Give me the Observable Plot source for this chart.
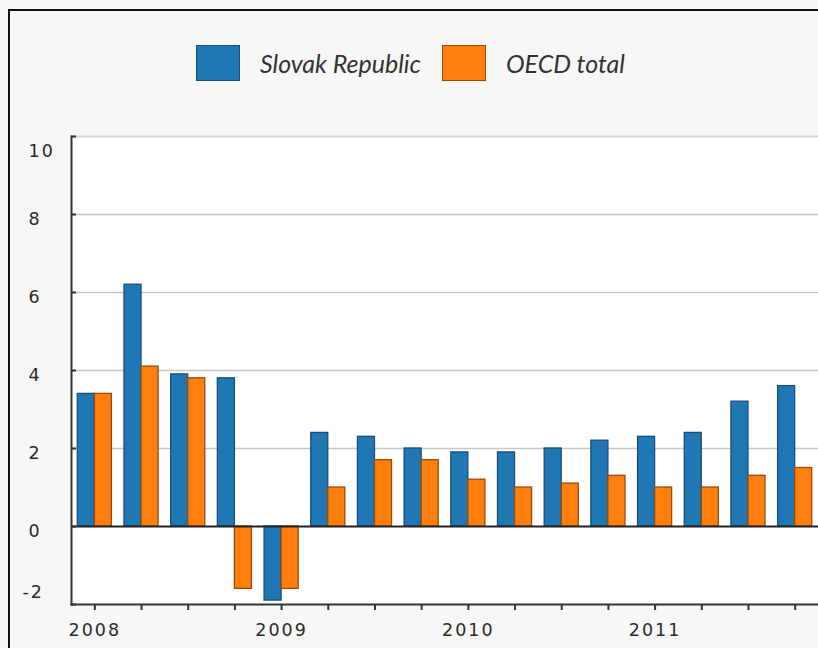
<!DOCTYPE html>
<html>
<head>
<meta charset="utf-8">
<script src="https://cdn.jsdelivr.net/npm/d3@7"></script>
<script src="https://cdn.jsdelivr.net/npm/@observablehq/plot@0.6"></script>
<style>
  html, body { margin: 0; padding: 0; background: #f7f7f7; }
  #wrap { position: relative; width: 818px; height: 648px; background: #f7f7f7; overflow: hidden; }
  #chart { position: absolute; left: 0; top: 0; }
  #chart svg text { letter-spacing: 2px; }
  #bl { position: absolute; left: 8px; top: 9px; width: 2px; height: 639px; background: #111; }
  #bt { position: absolute; left: 8px; top: 9px; width: 810px; height: 2px; background: #111; }
  #legend { position: absolute; left: 196px; top: 45px; height: 36px; display: flex; align-items: center;
            font-family: Lato, "Open Sans", sans-serif; font-style: italic; font-size: 25px; color: #333; white-space: nowrap; }
  .sw { width: 44px; height: 36px; box-sizing: border-box; border: 1.5px solid; }
</style>
</head>
<body>
<div id="wrap">
  <div id="chart"></div>
  <div id="bl"></div>
  <div id="bt"></div>
  <div id="legend"></div>
</div>
<script>
// ---- data ----
const quarters = ["2008-Q1","2008-Q2","2008-Q3","2008-Q4",
                  "2009-Q1","2009-Q2","2009-Q3","2009-Q4",
                  "2010-Q1","2010-Q2","2010-Q3","2010-Q4",
                  "2011-Q1","2011-Q2","2011-Q3","2011-Q4"];
const slovak = [3.4, 6.2, 3.9, 3.8, -1.9, 2.4, 2.3, 2.0, 1.9, 1.9, 2.0, 2.2, 2.3, 2.4, 3.2, 3.6];
const oecd   = [3.4, 4.1, 3.8, -1.6, -1.6, 1.0, 1.7, 1.7, 1.2, 1.0, 1.1, 1.3, 1.0, 1.0, 1.3, 1.5];
const seriesNames = ["Slovak Republic", "OECD total"];
const seriesColors = ["#1f77b4", "#ff7f0e"];
const seriesStrokes = ["#1b4d75", "#9a4a0c"];
const yTicks = [-2, 0, 2, 4, 6, 8, 10];
const gridTicks = [2, 4, 6, 8];

// ---- layout ----
const W = 818, H = 648, mL = 71, mR = 0, mT = 136, mB = 44;
const padIn = 0.27;
const step = (W - mL - mR) / quarters.length;
const half = step * (1 - padIn) / 2;

const rowsA = quarters.map((q, i) => ({q, v: slovak[i]}));
const rowsB = quarters.map((q, i) => ({q, v: oecd[i]}));

const font = "DejaVu Sans, Verdana, sans-serif";
const fs = 17.5;

const plot = Plot.plot({
  width: W, height: H,
  marginLeft: mL, marginRight: mR, marginTop: mT, marginBottom: mB,
  style: {background: "transparent", fontFamily: font, fontSize: fs + "px", color: "#2a2a2a", overflow: "visible"},
  x: {domain: quarters, paddingInner: padIn, paddingOuter: padIn / 2, round: false, axis: null},
  y: {domain: [-2, 10], axis: null},
  marks: [
    Plot.frame({fill: "white", stroke: null}),
    Plot.ruleY(gridTicks, {stroke: "#c8c8c8", strokeWidth: 1.5}),
    Plot.ruleY([10], {stroke: "#d8d8d8", strokeWidth: 2}),
    Plot.barY(rowsA, {x: "q", y: "v", fill: seriesColors[0], stroke: seriesStrokes[0], strokeWidth: 1.3, insetRight: half}),
    Plot.barY(rowsB, {x: "q", y: "v", fill: seriesColors[1], stroke: seriesStrokes[1], strokeWidth: 1.3, insetLeft: half}),
    Plot.ruleY([0], {stroke: "#222", strokeWidth: 2}),
    Plot.frame({anchor: "left", stroke: "#333", strokeWidth: 2}),
    Plot.frame({anchor: "bottom", stroke: "#333", strokeWidth: 2}),
    // y ticks pointing inward
    Plot.axisY(yTicks, {tickSize: 5, dx: 5, fill: "none", stroke: "#333", strokeWidth: 2, label: null}),
    // y tick labels
    Plot.axisY([0, 2, 4, 6, 8], {tickSize: 0, tickPadding: 0, textAnchor: "start", dx: -43, dy: 4.9,
      fontSize: fs, fill: "#2a2a2a", tickFormat: d => String(d), label: null}),
    Plot.axisY([10], {tickSize: 0, tickPadding: 0, textAnchor: "start", dx: -43, dy: 14.6,
      fontSize: fs, fill: "#2a2a2a", tickFormat: d => String(d), label: null}),
    Plot.axisY([-2], {tickSize: 0, tickPadding: 0, textAnchor: "start", dx: -49, dy: -11.7,
      fontSize: fs, fill: "#2a2a2a", tickFormat: d => String(d), label: null}),
    // x ticks at every quarter
    Plot.axisX(quarters, {tickSize: 6, fill: "none", stroke: "#333", strokeWidth: 2, label: null}),
    // x labels at first quarter of each year
    Plot.axisX(quarters.filter(q => q.endsWith("Q1")), {tickSize: 0, tickPadding: 19, fontSize: fs, fill: "#2a2a2a",
      tickFormat: d => d.slice(0, 4), label: null})
  ]
});
document.getElementById("chart").appendChild(plot);

// ---- legend ----
const legend = document.getElementById("legend");
seriesNames.forEach((name, i) => {
  const sw = document.createElement("div");
  sw.className = "sw";
  sw.style.background = seriesColors[i];
  sw.style.borderColor = seriesStrokes[i];
  sw.style.marginRight = "20px";
  legend.appendChild(sw);
  const t = document.createElement("span");
  t.textContent = name;
  t.style.marginRight = "21px";
  legend.appendChild(t);
});
</script>
</body>
</html>
